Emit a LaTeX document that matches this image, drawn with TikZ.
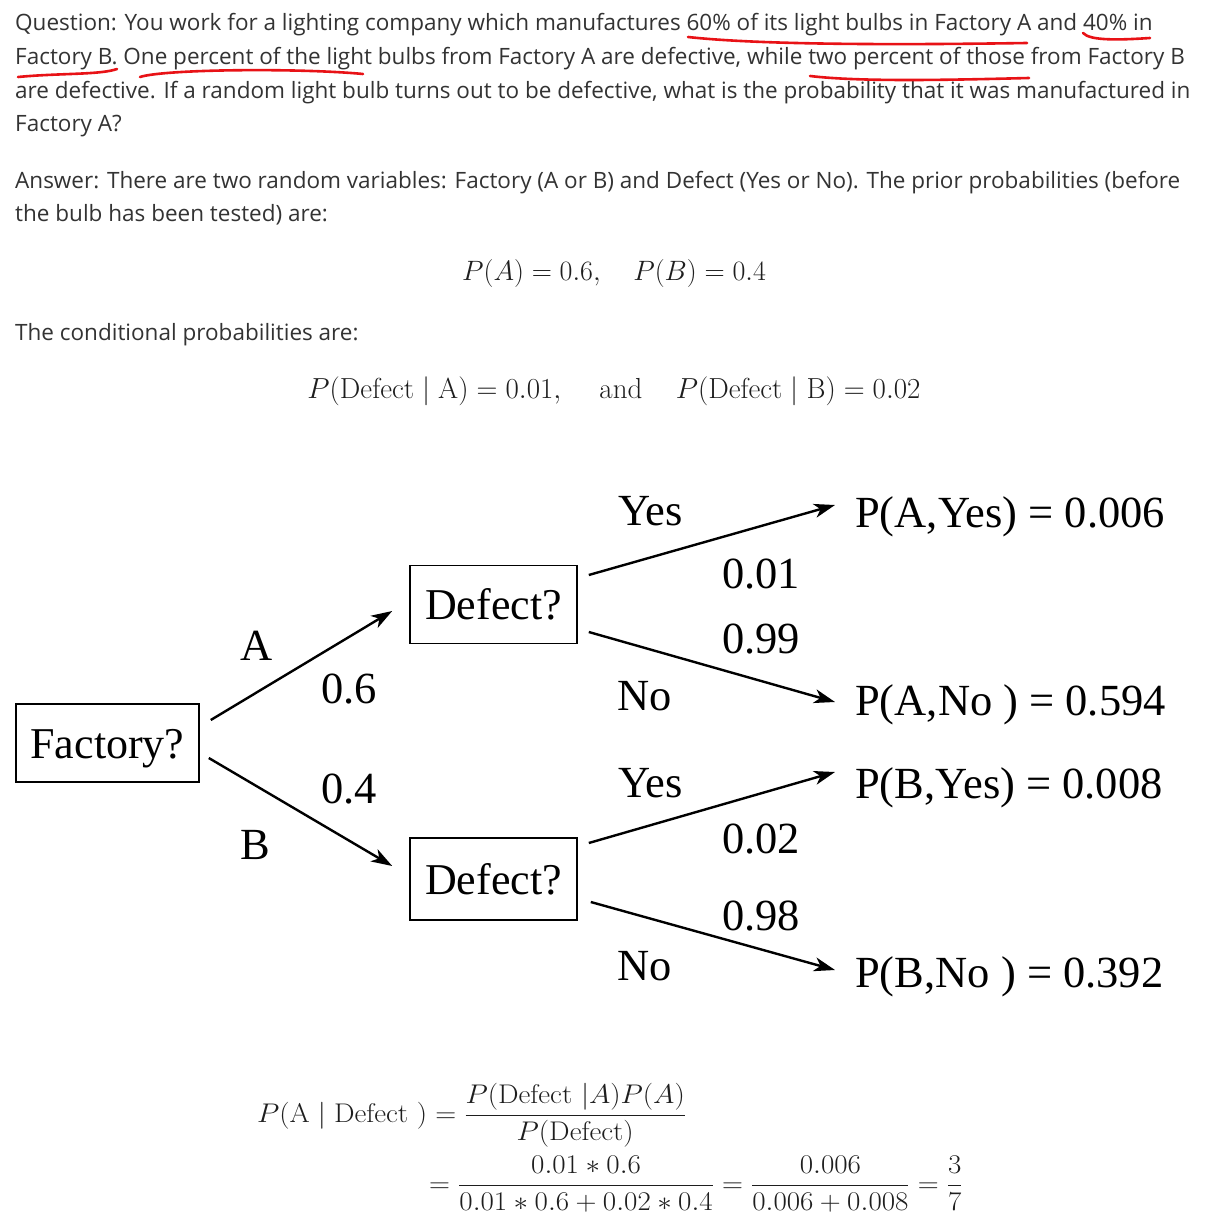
\RequirePackage{fix-cm}
\documentclass[tikz,border=0pt]{standalone}
\usepackage{amsmath}
\usepackage{graphicx}
\usepackage[no-math]{fontspec}
\newfontfamily\osans{Open Sans}
\newfontfamily\tnr{Liberation Serif}
\usetikzlibrary{arrows.meta}
\definecolor{bodygray}{RGB}{51,51,51}
\definecolor{mathblack}{RGB}{30,30,30}
\definecolor{ulred}{RGB}{232,18,22}
\begin{document}
\begin{tikzpicture}[x=1pt,y=-1pt,
  body/.style={anchor=base west, inner sep=0pt, text=bodygray, font=\osans\fontsize{22.5}{27}\selectfont},
  mth/.style={inner sep=0pt, text=mathblack, font=\fontsize{28}{34}\selectfont},
  mthc/.style={inner sep=0pt, text=mathblack, font=\fontsize{29}{35}\selectfont},
  mthb/.style={inner sep=0pt, anchor=base west, text=mathblack, font=\fontsize{27}{32}\selectfont},
  lbl/.style={inner sep=0pt, anchor=base west, font=\tnr\fontsize{44.5}{50}\selectfont},
  qbox/.style={draw, line width=1.6pt, inner sep=0pt, text height=30pt, text depth=0pt, font=\tnr\fontsize{44}{50}\selectfont},
  arr/.style={line width=2.4pt, -{Stealth[length=21pt,width=14pt,inset=6pt]}},
  ul/.style={draw=ulred, line width=2.6pt, line cap=round}
]
\fill[white] (0,0) rectangle (1212,1230);
\useasboundingbox (0,0) rectangle (1212,1230);

% question text
\node[body] (q1) at (15,31) {Question: You work for a lighting company which manufactures 60\% of its light bulbs in Factory A and 40\% in};
\node[body] (q2) at (15,65) {Factory B. One percent of the light bulbs from Factory A are defective, while two percent of those from Factory B};
\node[body] (q3) at (15,99) {are defective. If a random light bulb turns out to be defective, what is the probability that it was manufactured in};
\node[body] (q4) at (15,132) {Factory A?};
\node[body] (a1) at (15,189) {Answer: There are two random variables: Factory (A or B) and Defect (Yes or No). The prior probabilities (before};
\node[body] (a2) at (15,222) {the bulb has been tested) are:};
\node[mth, anchor=base] (pab) at (614,281) {$P(A) = 0.6,\quad P(B) = 0.4$};
\node[body] (cond) at (15,340) {The conditional probabilities are:};
\node[mthc, anchor=base] (pdef) at (614,398) {$P(\text{Defect}\mid\mathrm{A}) = 0.01,\hspace{1.15em}\text{and}\hspace{1.15em}P(\text{Defect}\mid\mathrm{B}) = 0.02$};

% red underlines
\draw[ul] (688,37) .. controls (760,45) and (900,45) .. (1027,43);
\draw[ul] (1083,33) .. controls (1090,41) and (1120,40) .. (1150,38);
\draw[ul] (18,77) .. controls (60,73) and (100,75) .. (117,69);
\draw[ul] (140,77) .. controls (165,69) and (300,68) .. (363,74);
\draw[ul] (810,76) .. controls (860,82) and (950,80) .. (1029,78);

% tree
\node[qbox, minimum width=183pt, minimum height=78pt] (fac) at (107.5,743) {Factory?};
\node[qbox, minimum width=167pt, minimum height=78pt] (dA) at (493.5,604.5) {Defect?};
\node[qbox, minimum width=167pt, minimum height=82pt] (dB) at (493.5,879) {Defect?};

\draw[arr] ([shift={(11,-23)}]fac.east) -- ([shift={(-17,6.5)}]dA.west);
\draw[arr] ([shift={(9,15)}]fac.east) -- ([shift={(-17,-13)}]dB.west);

\coordinate (tAY) at (835,505);
\coordinate (tAN) at (835,702);
\coordinate (tBY) at (835,772);
\coordinate (tBN) at (835,970);
\draw[arr] ([shift={(11,-29.5)}]dA.east) -- (tAY);
\draw[arr] ([shift={(11,27.5)}]dA.east) -- (tAN);
\draw[arr] ([shift={(11,-36)}]dB.east) -- (tBY);
\draw[arr] ([shift={(13,23)}]dB.east) -- (tBN);

\node[lbl] (lA) at (240,660) {A};
\node[lbl] (l06) at (321,703) {0.6};
\node[lbl] (l04) at (321,803) {0.4};
\node[lbl] (lB) at (240,859) {B};
\node[lbl] (lAY) at (618,525) {Yes};
\node[lbl] (l001) at (722,588) {0.01};
\node[lbl] (l099) at (722,653) {0.99};
\node[lbl] (lAN) at (617,710) {No};
\node[lbl] (lBY) at (618,797) {Yes};
\node[lbl] (l002) at (722,853) {0.02};
\node[lbl] (l098) at (722,930) {0.98};
\node[lbl] (lBN) at (617,980) {No};

\node[lbl] (rAY) at (855,527) {P(A,Yes) = 0.006};
\node[lbl] (rAN) at (855,715) {P(A,No ) = 0.594};
\node[lbl] (rBY) at (855,798) {P(B,Yes) = 0.008};
\node[lbl] (rBN) at (855,987) {P(B,No ) = 0.392};

% Bayes
\node[mthb] (bay1) at (257,1122) {\scalebox{1.075}[1]{$\displaystyle P(\mathrm{A}\mid\text{Defect }) = \frac{P(\text{Defect }|A)P(A)}{P(\text{Defect})}$}};
\node[mthb] (bay2) at (429,1192) {\scalebox{1.075}[1]{$\displaystyle = \frac{0.01*0.6}{0.01*0.6+0.02*0.4} = \frac{0.006}{0.006+0.008} = \frac{3}{7}$}};
\end{tikzpicture}
\end{document}
